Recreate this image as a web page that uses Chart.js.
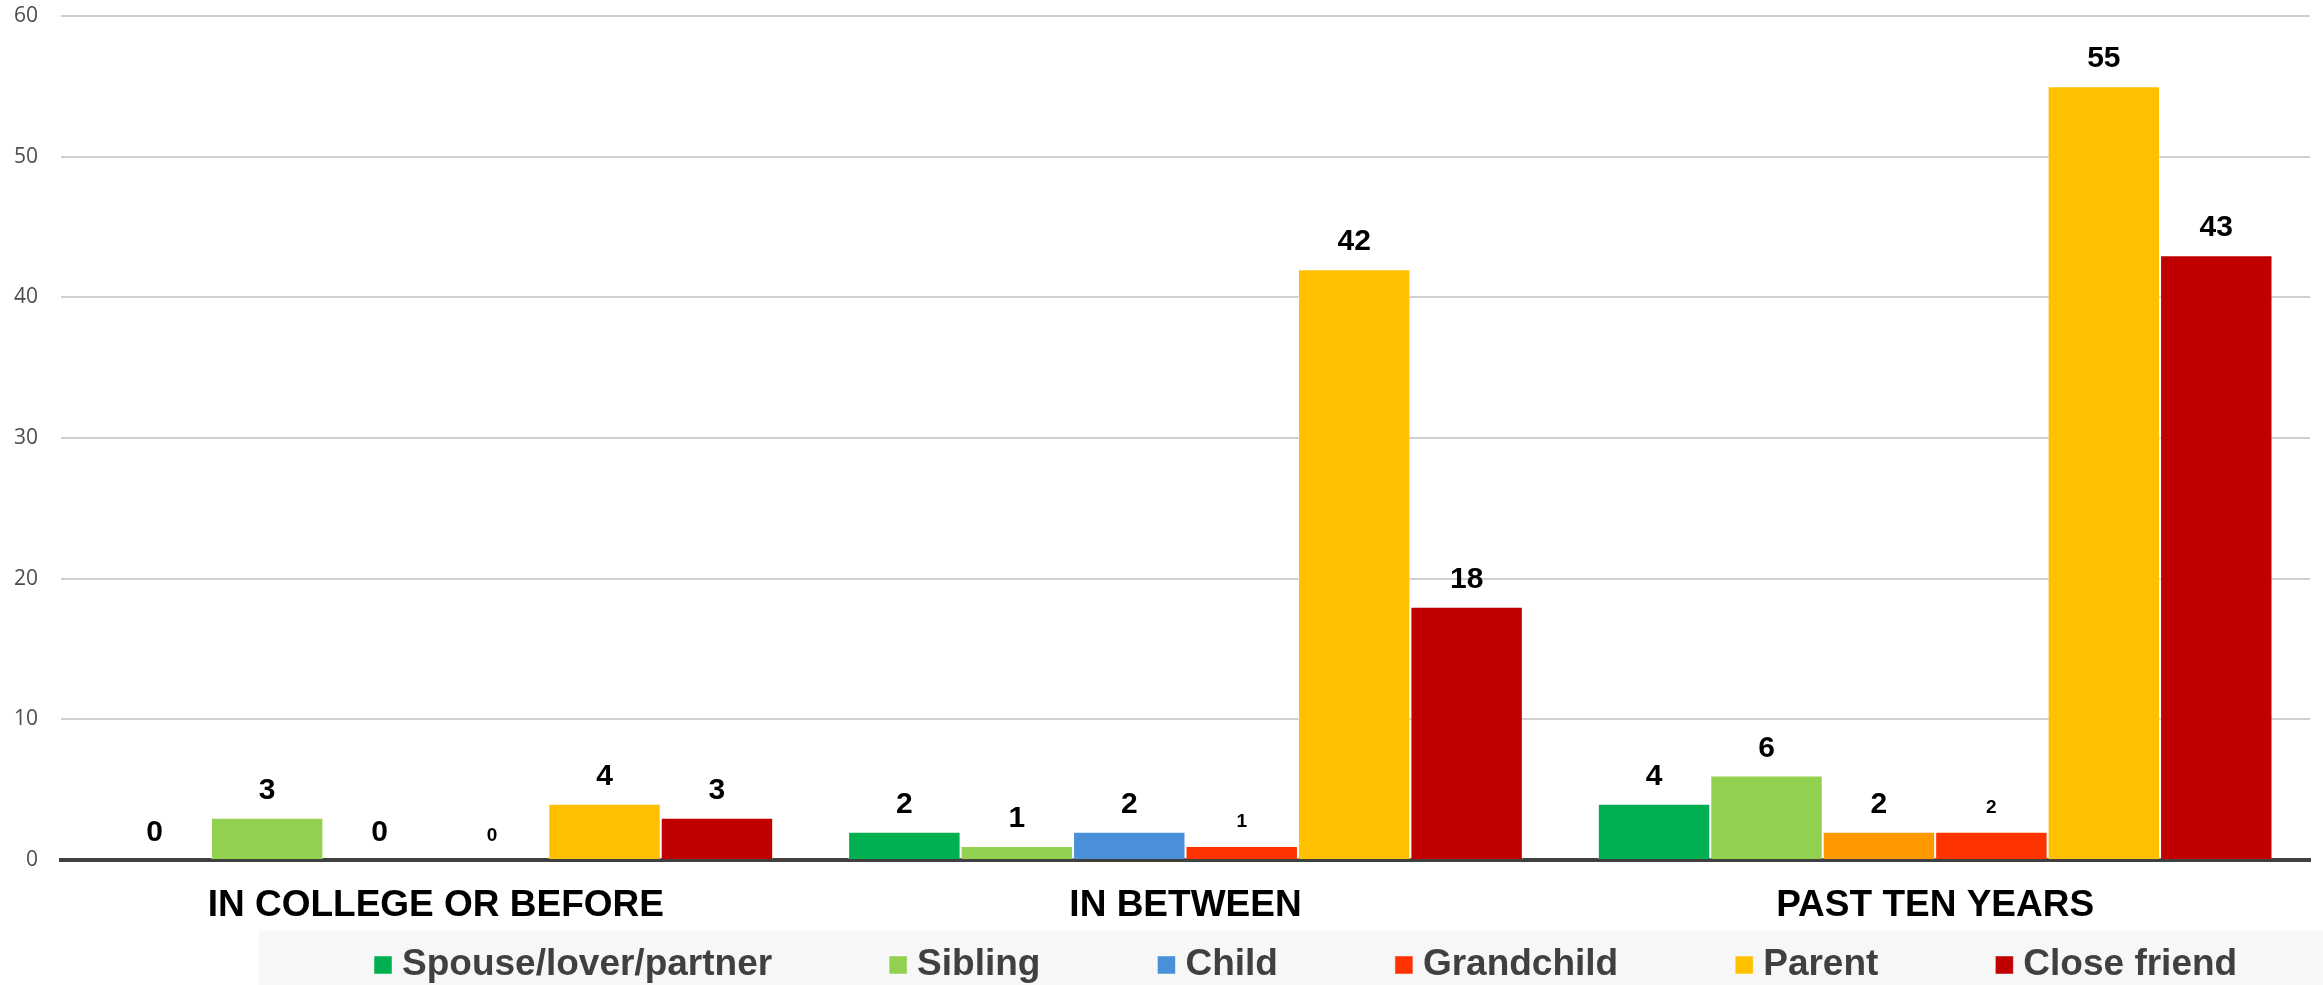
<!DOCTYPE html>
<html>
<head>
<meta charset="utf-8">
<script src="https://cdn.jsdelivr.net/npm/chart.js@4.4.1/dist/chart.umd.min.js"></script>
<style>
  html, body { margin: 0; padding: 0; background: #ffffff; }
  #wrap { width: 2323px; height: 985px; }
</style>
</head>
<body>
<div id="wrap"><canvas id="c" width="2323" height="985"></canvas></div>
<script>
// ---- data ----
const categories = ['IN COLLEGE OR BEFORE', 'IN BETWEEN', 'PAST TEN YEARS'];
const seriesNames = ['Spouse/lover/partner', 'Sibling', 'Child', 'Grandchild', 'Parent', 'Close friend'];
const spouseValues = [0, 2, 4];
const siblingValues = [3, 1, 6];
const childValues = [0, 2, 2];
const grandchildValues = [0, 1, 2];
const parentValues = [4, 42, 55];
const closeFriendValues = [3, 18, 43];
const yTickValues = [0, 10, 20, 30, 40, 50, 60];

// ---- styles ----
const childBarColors = ['#4A90D9', '#4A90D9', '#FF9900'];
const FONT = '"Liberation Sans", Arial, Helvetica, sans-serif';

const datasets = [
  { label: seriesNames[0], data: spouseValues, backgroundColor: '#00B050', labelSize: 30 },
  { label: seriesNames[1], data: siblingValues, backgroundColor: '#92D050', labelSize: 30 },
  { label: seriesNames[2], data: childValues,
    backgroundColor: (ctx) => ctx.type === 'data' ? childBarColors[ctx.dataIndex] : childBarColors[0],
    labelSize: 30 },
  { label: seriesNames[3], data: grandchildValues, backgroundColor: '#FF3300', labelSize: 19 },
  { label: seriesNames[4], data: parentValues, backgroundColor: '#FFC000', labelSize: 30 },
  { label: seriesNames[5], data: closeFriendValues, backgroundColor: '#C00000', labelSize: 30 }
].map(d => Object.assign(d, {
  borderColor: 'rgba(255,255,255,0.45)',
  borderWidth: 1,
  categoryPercentage: 0.9,
  barPercentage: 1.0
}));

// value labels above bars
const valueLabels = {
  id: 'valueLabels',
  afterDatasetsDraw(chart) {
    const ctx = chart.ctx;
    ctx.save();
    ctx.fillStyle = '#000000';
    ctx.textAlign = 'center';
    ctx.textBaseline = 'alphabetic';
    chart.data.datasets.forEach((ds, di) => {
      const meta = chart.getDatasetMeta(di);
      if (meta.hidden) return;
      ctx.font = 'bold ' + ds.labelSize + 'px ' + FONT;
      meta.data.forEach((el, i) => {
        ctx.fillText(String(ds.data[i]), el.x, el.y - 19);
      });
    });
    ctx.restore();
  }
};

// legend placement + grey band
const LEG_PAD = 125.5;
const BAND_H = 54;
const legendBand = {
  id: 'legendBand',
  beforeInit(chart) {
    const lg = chart.legend;
    const origFit = lg.fit;
    lg.fit = function () {
      origFit.call(this);
      this.height = BAND_H;
    };
  },
  afterLayout(chart) {
    const lg = chart.legend;
    lg._bandTop = chart.height - BAND_H;
    lg._bandLeft = 259;
    lg.left = 374 + 8.5 - LEG_PAD;
    lg.right = chart.width + 5000;
    lg.width = lg.right - lg.left;
    lg.top = lg._bandTop + 34 - 37 / 2 - LEG_PAD;
  },
  beforeDraw(chart) {
    const lg = chart.legend;
    const ctx = chart.ctx;
    ctx.save();
    ctx.fillStyle = '#F7F7F7';
    ctx.fillRect(lg._bandLeft, lg._bandTop, chart.width - lg._bandLeft, chart.height - lg._bandTop);
    ctx.restore();
  }
};

new Chart(document.getElementById('c'), {
  type: 'bar',
  data: { labels: categories, datasets: datasets },
  options: {
    responsive: false,
    devicePixelRatio: 1,
    animation: false,
    layout: { padding: { left: 14, right: 13, top: 16, bottom: 0 } },
    plugins: {
      legend: {
        position: 'bottom',
        align: 'start',
        labels: {
          usePointStyle: true,
          pointStyle: 'rect',
          boxWidth: 1,
          boxHeight: 18,
          padding: LEG_PAD,
          color: '#404040',
          font: { family: FONT, size: 37, weight: 'bold' }
        }
      },
      tooltip: { enabled: false }
    },
    scales: {
      x: {
        grid: { display: false, drawTicks: false },
        border: { display: true, color: '#404040', width: 4 },
        ticks: {
          color: '#000000',
          padding: 23.3,
          font: { family: FONT, size: 37, weight: 'bold' }
        },
        afterFit(scale) {
          scale.height = 71;
          scale.paddingLeft = 0;
          scale.paddingRight = 0;
        }
      },
      y: {
        min: 0,
        max: 60,
        afterBuildTicks(scale) { scale.ticks = yTickValues.map(v => ({ value: v })); },
        grid: { color: '#CFCFCF', lineWidth: 2, drawTicks: false },
        border: { display: false },
        ticks: {
          color: '#4D4D4D',
          padding: 23,
          font: { family: '"Open Sans", sans-serif', size: 21 }
        },
        afterFit(scale) {
          scale.width = 47;
          scale.paddingTop = 0;
          scale.paddingBottom = 0;
        }
      }
    }
  },
  plugins: [valueLabels, legendBand]
});
</script>
</body>
</html>
